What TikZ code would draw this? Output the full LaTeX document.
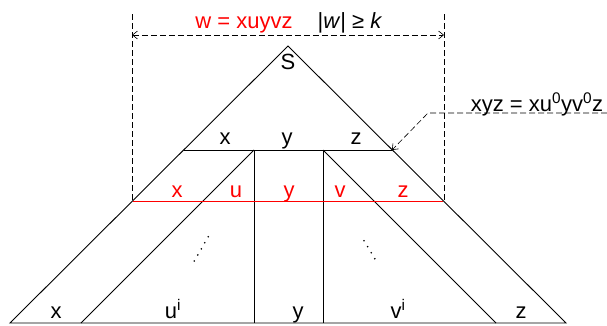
\documentclass[tikz,border=0pt]{standalone}
\usepackage{fontspec}
\setmainfont{Liberation Sans}
\usetikzlibrary{arrows.meta}
\begin{document}
\begin{tikzpicture}[x=1pt,y=1pt,
  ln/.style={line width=0.9pt,black},
  redln/.style={line width=0.9pt,red},
  dsh/.style={line width=0.6pt,dash pattern=on 6pt off 3pt},
  lbl/.style={font=\fontsize{22}{24}\selectfont,anchor=base,inner sep=0pt},
  rlbl/.style={lbl,text=red},
  dts/.style={line width=1.8pt,line cap=round,dash pattern=on 0pt off 7pt}]
\useasboundingbox (0,0) rectangle (607,325);
% coordinates
\coordinate (A) at (288,279);
\coordinate (BL) at (10,2);
\coordinate (BR) at (566,2);
\coordinate (L1) at (184,175);
\coordinate (R1) at (392,175);
\coordinate (M1) at (254,175);
\coordinate (M2) at (323,175);
\coordinate (M1b) at (254,2);
\coordinate (M2b) at (323,2);
\coordinate (IL) at (81,2);
\coordinate (IR) at (496,2);
\coordinate (RL) at (133,124);
\coordinate (RR) at (443,124);
\coordinate (VL1) at (132,311);
\coordinate (VL2) at (132,125);
\coordinate (VR1) at (444,311);
\coordinate (VR2) at (444,125);
\coordinate (AL) at (132,290);
\coordinate (AR) at (444,290);
\coordinate (P1) at (607,212);
\coordinate (P2) at (428,212);
% triangle
\draw[ln] (BL) -- (A) -- (BR) -- cycle;
\draw[ln] (L1) -- (R1);
\draw[ln] (M1) -- (M1b);
\draw[ln] (M2) -- (M2b);
\draw[ln] (M1) -- (IL);
\draw[ln] (M2) -- (IR);
\draw[redln] (RL) -- (RR);
% dashed
\draw[dsh] (VL1) -- (VL2);
\draw[dsh] (VR1) -- (VR2);
\draw[dsh,{Straight Barb[length=5pt,width=8pt]}-{Straight Barb[length=5pt,width=8pt]}] (AL) -- (AR);
\draw[dsh,-{Straight Barb[length=5pt,width=8pt]}] (P1) -- (P2) -- (R1);
% dots
\coordinate (D1a) at (194.3,64);
\coordinate (D1b) at (208.3,88.3);
\coordinate (D2a) at (364,84.3);
\coordinate (D2b) at (378,61);
\draw[dts] (D1a) -- (D1b);
\draw[dts] (D2a) -- (D2b);
% labels
\node[rlbl] (w) at (244,297) {w = xuyvz};
\node[lbl] (wk) at (350,297) {|\textit{w}| ≥ \textit{k}};
\node[lbl] (S) at (288,256) {S};
\node[lbl] (xyz) at (537,214) {xyz = xu\textsuperscript{0}yv\textsuperscript{0}z};
\node[lbl] (tx) at (225,181) {x};
\node[lbl] (ty) at (287,181) {y};
\node[lbl] (tz) at (356,181) {z};
\node[rlbl] (rx) at (177,128) {x};
\node[rlbl] (ru) at (236,128) {u};
\node[rlbl] (ry) at (289,128) {y};
\node[rlbl] (rv) at (340,128) {v};
\node[rlbl] (rz) at (403,128) {z};
\node[lbl] (bx) at (56,7) {x};
\node[lbl] (bu) at (173,7) {u\textsuperscript{i}};
\node[lbl] (by) at (298,7) {y};
\node[lbl] (bv) at (398,7) {v\textsuperscript{i}};
\node[lbl] (bz) at (521,7) {z};
\end{tikzpicture}
\end{document}
